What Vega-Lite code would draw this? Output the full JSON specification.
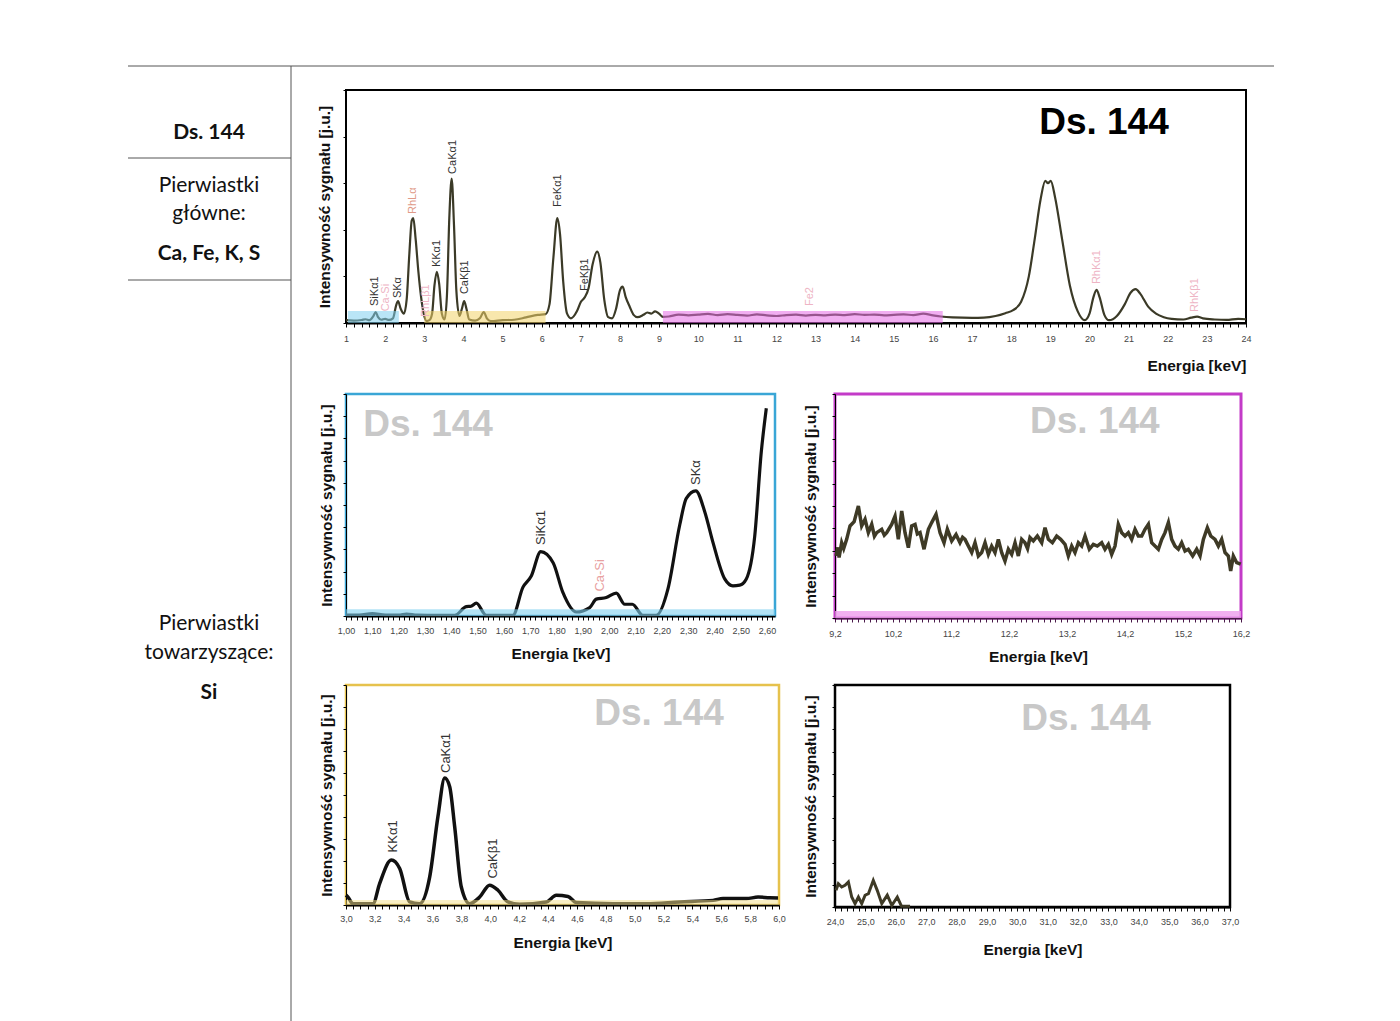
{
"$schema": "https://vega.github.io/schema/vega-lite/v6.json",
"background": "white",
"padding": {"left": 127, "top": 65, "right": 0, "bottom": 0},
"bounds": "flush",
"spacing": 55,
"config": {"font": "Liberation Sans", "view": {"stroke": null}, "axis": {"labelFont": "Liberation Sans", "titleFont": "Liberation Sans", "grid": false}},
"hconcat": [
{
 "width": 163, "height": 932,
 "encoding": {
  "x": {"field": "x", "type": "quantitative", "scale": {"domain": [0, 163], "nice": false, "zero": false}, "axis": null},
  "y": {"field": "y", "type": "quantitative", "scale": {"domain": [24, 956], "reverse": true, "nice": false, "zero": false}, "axis": null}
 },
 "layer": [
  {"data": {"values": [{"x": 0, "x2": 1146, "y": 0, "y2": 0}, {"x": 0, "x2": 163, "y": 92, "y2": 92}, {"x": 0, "x2": 163, "y": 214, "y2": 214}, {"x": 163, "x2": 163, "y": 0, "y2": 956}]},
   "mark": {"type": "rule", "color": "#555555", "strokeWidth": 1},
   "encoding": {"x2": {"field": "x2"}, "y2": {"field": "y2"}}},
  {"data": {"values": [{"x": 81, "y": 67, "t": "Ds. 144"}, {"x": 81, "y": 188, "t": "Ca, Fe, K, S"}, {"x": 81, "y": 627, "t": "Si"}]},
   "mark": {"type": "text", "font": "Lato", "fontSize": 21, "fontWeight": "bold", "color": "#111111", "align": "center", "baseline": "middle"},
   "encoding": {"text": {"field": "t"}}},
  {"data": {"values": [{"x": 81, "y": 120, "t": "Pierwiastki"}, {"x": 81, "y": 148, "t": "główne:"}, {"x": 81, "y": 558, "t": "Pierwiastki"}, {"x": 81, "y": 587, "t": "towarzyszące:"}]},
   "mark": {"type": "text", "font": "Lato", "fontSize": 21, "color": "#111111", "align": "center", "baseline": "middle"},
   "encoding": {"text": {"field": "t"}}}
 ]
},
{
 "spacing": 17,
 "vconcat": [
 {
  "width": 900, "height": 233,
  "view": {"stroke": "#000000", "strokeWidth": 2},
  "resolve": {"scale": {"color": "independent"}},
  "encoding": {
   "x": {"field": "e", "type": "quantitative", "scale": {"domain": [1, 24], "nice": false, "zero": false},
    "axis": {"title": "Energia [keV]", "titleAnchor": "end", "tickCount": 115, "labelExpr": "abs(datum.value - round(datum.value)) < 0.01 ? format(round(datum.value), 'd') : ''", "labelOverlap": false, "labelFlush": false, "labelFontSize": 9, "labelColor": "#444444", "labelPadding": 7, "tickSize": 4, "tickColor": "#000000", "domainColor": "#000000", "domainWidth": 2, "titlePadding": 15, "titleFontSize": 15.5, "titleFontWeight": "bold", "titleColor": "#111111"}},
   "y": {"field": "v", "type": "quantitative", "scale": {"domain": [0, 100], "nice": false, "zero": false},
    "axis": {"title": "Intensywność sygnału [j.u.]", "labels": false, "tickCount": 6, "tickSize": 3, "tickColor": "#000000", "domainColor": "#000000", "titlePadding": 10, "titleFontSize": 15.5, "titleFontWeight": "bold", "titleColor": "#111111"}}
  },
  "layer": [
   {"data": {"values": [
    {"e":1.0,"v":1.2},{"e":1.2,"v":1.0},{"e":1.4,"v":1.3},{"e":1.5,"v":1.6},{"e":1.6,"v":1.2},{"e":1.7,"v":3.0},{"e":1.76,"v":4.7},{"e":1.82,"v":2.5},{"e":1.9,"v":1.4},{"e":2.0,"v":1.8},{"e":2.1,"v":1.3},{"e":2.2,"v":2.0},{"e":2.28,"v":7.5},{"e":2.33,"v":9.4},{"e":2.4,"v":6.0},{"e":2.48,"v":4.0},{"e":2.55,"v":10},{"e":2.62,"v":30},{"e":2.68,"v":44},{"e":2.72,"v":45},{"e":2.78,"v":36},{"e":2.85,"v":22},{"e":2.92,"v":11},{"e":3.0,"v":3},{"e":3.06,"v":0.8},{"e":3.13,"v":1.2},{"e":3.2,"v":4},{"e":3.26,"v":16},{"e":3.32,"v":22},{"e":3.38,"v":17},{"e":3.45,"v":4},{"e":3.52,"v":1.5},{"e":3.58,"v":12},{"e":3.64,"v":45},{"e":3.70,"v":62},{"e":3.76,"v":42},{"e":3.82,"v":14},{"e":3.9,"v":3},{"e":3.96,"v":6},{"e":4.02,"v":9.4},{"e":4.08,"v":6},{"e":4.15,"v":1.5},{"e":4.3,"v":1.0},{"e":4.42,"v":2.0},{"e":4.52,"v":4.7},{"e":4.6,"v":2.0},{"e":4.7,"v":0.8},{"e":5.0,"v":1.2},{"e":5.3,"v":1.4},{"e":5.6,"v":2.4},{"e":5.9,"v":3.5},{"e":6.1,"v":3.8},{"e":6.2,"v":8},{"e":6.3,"v":28},{"e":6.4,"v":45},{"e":6.47,"v":38},{"e":6.55,"v":18},{"e":6.65,"v":4},{"e":6.75,"v":2.0},{"e":6.9,"v":5},{"e":7.0,"v":9},{"e":7.1,"v":11},{"e":7.2,"v":15},{"e":7.3,"v":25},{"e":7.42,"v":30.6},{"e":7.5,"v":26},{"e":7.6,"v":10},{"e":7.7,"v":2.5},{"e":7.8,"v":2.0},{"e":7.9,"v":6},{"e":8.0,"v":14},{"e":8.07,"v":15.6},{"e":8.15,"v":11},{"e":8.25,"v":7},{"e":8.35,"v":3.5},{"e":8.45,"v":2.5},{"e":8.6,"v":3.5},{"e":8.7,"v":4.5},{"e":8.8,"v":4.0},{"e":8.9,"v":5.0},{"e":9.0,"v":4.0},{"e":9.1,"v":2.6},{"e":9.25,"v":2.8},{"e":9.5,"v":3.6},{"e":9.75,"v":3.3},{"e":10.0,"v":3.6},{"e":10.25,"v":3.9},{"e":10.5,"v":3.4},{"e":10.75,"v":3.8},{"e":11.0,"v":3.5},{"e":11.25,"v":3.2},{"e":11.5,"v":3.7},{"e":11.75,"v":3.3},{"e":12.0,"v":3.0},{"e":12.25,"v":3.4},{"e":12.5,"v":3.6},{"e":12.75,"v":3.2},{"e":13.0,"v":3.5},{"e":13.25,"v":3.3},{"e":13.5,"v":3.6},{"e":13.75,"v":3.4},{"e":14.0,"v":3.8},{"e":14.25,"v":3.5},{"e":14.5,"v":3.6},{"e":14.75,"v":3.3},{"e":15.0,"v":3.5},{"e":15.25,"v":3.7},{"e":15.5,"v":3.4},{"e":15.75,"v":4.0},{"e":16.0,"v":3.3},{"e":16.2,"v":2.8},{"e":16.5,"v":2.4},{"e":17.0,"v":2.2},{"e":17.3,"v":2.3},{"e":17.6,"v":3.0},{"e":17.85,"v":4.2},{"e":18.05,"v":5.5},{"e":18.25,"v":9},{"e":18.45,"v":20},{"e":18.6,"v":36},{"e":18.75,"v":53},{"e":18.87,"v":61},{"e":18.94,"v":60},{"e":19.01,"v":61},{"e":19.12,"v":54},{"e":19.3,"v":36},{"e":19.5,"v":16},{"e":19.7,"v":5},{"e":19.88,"v":1.2},{"e":20.0,"v":4},{"e":20.1,"v":11},{"e":20.18,"v":14.2},{"e":20.26,"v":11},{"e":20.38,"v":3.5},{"e":20.5,"v":1.2},{"e":20.7,"v":3},{"e":20.9,"v":8},{"e":21.05,"v":13},{"e":21.18,"v":14.5},{"e":21.3,"v":12.5},{"e":21.5,"v":7},{"e":21.7,"v":4},{"e":21.9,"v":2.5},{"e":22.1,"v":1.8},{"e":22.4,"v":1.5},{"e":22.6,"v":2.3},{"e":22.75,"v":2.7},{"e":22.9,"v":2.0},{"e":23.2,"v":1.5},{"e":23.5,"v":1.3},{"e":23.8,"v":1.8},{"e":24.0,"v":1.6}
   ]},
    "mark": {"type": "line", "color": "#3b3a27", "strokeWidth": 2.2, "interpolate": "monotone"}},
   {"data": {"values": [{"e": 1.05, "e2": 2.35, "v": 0, "v2": 5.2, "c": "b"}, {"e": 3.0, "e2": 6.1, "v": 0, "v2": 5.2, "c": "y"}, {"e": 9.1, "e2": 16.25, "v": 0, "v2": 5.2, "c": "m"}]},
    "mark": {"type": "rect", "opacity": 0.55},
    "encoding": {"x2": {"field": "e2"}, "y2": {"field": "v2"}, "color": {"field": "c", "type": "nominal", "scale": {"domain": ["b", "y", "m"], "range": ["#7fd0ee", "#f3d46a", "#e66be6"]}, "legend": null}}},
   {"data": {"values": [
    {"e": 1.74, "v": 7.3, "t": "SiKα1", "k": "main"},
    {"e": 2.33, "v": 10.7, "t": "SKα", "k": "main"},
    {"e": 2.71, "v": 46.8, "t": "RhLα", "k": "rh"},
    {"e": 3.33, "v": 24, "t": "KKα1", "k": "main"},
    {"e": 3.73, "v": 64, "t": "CaKα1", "k": "main"},
    {"e": 4.04, "v": 12.4, "t": "CaKβ1", "k": "main"},
    {"e": 6.42, "v": 49.8, "t": "FeKα1", "k": "main"},
    {"e": 7.11, "v": 13.7, "t": "FeKβ1", "k": "main"},
    {"e": 20.19, "v": 16.7, "t": "RhKα1", "k": "faint"},
    {"e": 22.7, "v": 4.7, "t": "RhKβ1", "k": "faint"},
    {"e": 2.02, "v": 5, "t": "Ca-Si", "k": "faint"},
    {"e": 3.04, "v": 2.6, "t": "RhLβ1", "k": "faint"},
    {"e": 12.86, "v": 7.3, "t": "Fe2", "k": "faint"}
   ]},
    "mark": {"type": "text", "angle": 270, "align": "left", "baseline": "middle", "fontSize": 11},
    "encoding": {"text": {"field": "t"}, "color": {"field": "k", "type": "nominal", "scale": {"domain": ["main", "rh", "faint"], "range": ["#333333", "#e09a88", "#eeb4c4"]}, "legend": null}}},
   {"data": {"values": [{"e": 20.37, "v": 85.8, "t": "Ds. 144"}]},
    "mark": {"type": "text", "fontSize": 37, "fontWeight": "bold", "color": "#000000", "align": "center", "baseline": "middle"},
    "encoding": {"text": {"field": "t"}}}
  ]
 },
 {
  "spacing": 24,
  "hconcat": [
  {
   "width": 429, "height": 222,
   "view": {"stroke": "#3aa6d6", "strokeWidth": 2.5},
   "encoding": {
    "x": {"field": "e", "type": "quantitative", "scale": {"domain": [1.0, 2.63], "nice": false, "zero": false},
     "axis": {"title": "Energia [keV]", "tickCount": 81, "labelExpr": "abs(datum.value*10 - round(datum.value*10)) < 0.01 ? replace(format(datum.value, '.2f'), '.', ',') : ''", "labelOverlap": false, "labelFlush": false, "labelFontSize": 9, "labelColor": "#444444", "labelPadding": 6, "tickSize": 4, "tickColor": "#000000", "domainColor": "#000000", "domainWidth": 2, "titlePadding": 11, "titleFontSize": 15.5, "titleFontWeight": "bold", "titleColor": "#111111"}},
    "y": {"field": "v", "type": "quantitative", "scale": {"domain": [0, 100], "nice": false, "zero": false},
     "axis": {"title": "Intensywność sygnału [j.u.]", "labels": false, "tickCount": 8, "tickSize": 3, "tickColor": "#000000", "domainColor": "#000000", "titlePadding": 8, "titleFontSize": 15.5, "titleFontWeight": "bold", "titleColor": "#111111"}}
   },
   "layer": [
    {"data": {"values": [
     {"e":1.0,"v":0.4},{"e":1.05,"v":0.4},{"e":1.1,"v":1.1},{"e":1.15,"v":0.4},{"e":1.2,"v":0.4},{"e":1.23,"v":0.9},{"e":1.27,"v":0.4},{"e":1.35,"v":0.3},{"e":1.413,"v":0.3},{"e":1.457,"v":4.2},{"e":1.475,"v":4.4},{"e":1.495,"v":5.8},{"e":1.533,"v":0.3},{"e":1.634,"v":0.3},{"e":1.672,"v":12.9},{"e":1.704,"v":18},{"e":1.740,"v":29},{"e":1.787,"v":24},{"e":1.824,"v":10.6},{"e":1.875,"v":1.8},{"e":1.926,"v":3.8},{"e":1.951,"v":7.6},{"e":1.989,"v":8.3},{"e":2.027,"v":10.3},{"e":2.059,"v":5.3},{"e":2.088,"v":5.3},{"e":2.128,"v":0.3},{"e":2.179,"v":0.3},{"e":2.223,"v":12.1},{"e":2.268,"v":41},{"e":2.293,"v":53},{"e":2.329,"v":56.4},{"e":2.363,"v":47},{"e":2.394,"v":33.3},{"e":2.439,"v":16.7},{"e":2.470,"v":13.6},{"e":2.496,"v":13.9},{"e":2.521,"v":16.7},{"e":2.553,"v":36},{"e":2.578,"v":74},{"e":2.597,"v":93.6}
    ]},
     "mark": {"type": "line", "color": "#111111", "strokeWidth": 3.2, "interpolate": "monotone"}},
    {"data": {"values": [{"e": 1.0, "e2": 2.63, "v": 0, "v2": 3.0}]},
     "mark": {"type": "rect", "color": "#7fd0ee", "opacity": 0.6},
     "encoding": {"x2": {"field": "e2"}, "y2": {"field": "v2"}}},
    {"data": {"values": [{"e": 1.742, "v": 32, "t": "SiKα1", "k": "main"}, {"e": 2.331, "v": 59, "t": "SKα", "k": "main"}, {"e": 1.964, "v": 11, "t": "Ca-Si", "k": "rh"}]},
     "mark": {"type": "text", "angle": 270, "align": "left", "baseline": "middle", "fontSize": 13},
     "encoding": {"text": {"field": "t"}, "color": {"field": "k", "type": "nominal", "scale": {"domain": ["main", "rh"], "range": ["#333333", "#e8a0a0"]}, "legend": null}}},
    {"data": {"values": [{"e": 1.312, "v": 86, "t": "Ds. 144"}]},
     "mark": {"type": "text", "fontSize": 37, "fontWeight": "bold", "color": "#c8c8c8", "align": "center", "baseline": "middle"},
     "encoding": {"text": {"field": "t"}}}
   ]
  },
  {
   "width": 406, "height": 224,
   "view": {"stroke": "#c33bc8", "strokeWidth": 3},
   "encoding": {
    "x": {"field": "e", "type": "quantitative", "scale": {"domain": [9.2, 16.2], "nice": false, "zero": false},
     "axis": {"title": "Energia [keV]", "tickCount": 70, "labelExpr": "abs(datum.value - 0.2 - round(datum.value - 0.2)) < 0.01 ? replace(format(datum.value, '.1f'), '.', ',') : ''", "labelOverlap": false, "labelFlush": false, "labelFontSize": 9, "labelColor": "#444444", "labelPadding": 7, "tickSize": 4, "tickColor": "#4a1a4a", "domainColor": "#4a1a4a", "domainWidth": 2, "titlePadding": 11, "titleFontSize": 15.5, "titleFontWeight": "bold", "titleColor": "#111111"}},
    "y": {"field": "v", "type": "quantitative", "scale": {"domain": [0, 100], "nice": false, "zero": false},
     "axis": {"title": "Intensywność sygnału [j.u.]", "labels": false, "tickCount": 8, "tickSize": 3, "tickColor": "#000000", "domainColor": "#000000", "titlePadding": 13, "titleFontSize": 15.5, "titleFontWeight": "bold", "titleColor": "#111111"}}
   },
   "layer": [
    {"data": {"values": [
     {"e":9.218,"v":27.7},{"e":9.25,"v":31.5},{"e":9.27,"v":27},{"e":9.315,"v":33.6},{"e":9.35,"v":31},{"e":9.401,"v":35.1},{"e":9.459,"v":41.1},{"e":9.53,"v":43},{"e":9.603,"v":50.0},{"e":9.660,"v":41.1},{"e":9.718,"v":44.05},{"e":9.775,"v":38.1},{"e":9.833,"v":41.8},{"e":9.88,"v":36.5},{"e":9.919,"v":38.1},{"e":10.005,"v":39.6},{"e":10.05,"v":37},{"e":10.091,"v":38.1},{"e":10.177,"v":41.8},{"e":10.235,"v":45.5},{"e":10.292,"v":35.1},{"e":10.350,"v":47.8},{"e":10.407,"v":38.1},{"e":10.465,"v":31.4},{"e":10.522,"v":41.1},{"e":10.580,"v":41.8},{"e":10.62,"v":37.5},{"e":10.666,"v":38.1},{"e":10.735,"v":30.7},{"e":10.810,"v":39.6},{"e":10.867,"v":42.6},{"e":10.942,"v":46.3},{"e":11.011,"v":38.1},{"e":11.080,"v":33.6},{"e":11.137,"v":39.6},{"e":11.212,"v":34.4},{"e":11.287,"v":37.3},{"e":11.355,"v":33.6},{"e":11.40,"v":36},{"e":11.442,"v":35.1},{"e":11.499,"v":32.1},{"e":11.557,"v":29.2},{"e":11.614,"v":33.6},{"e":11.672,"v":27.7},{"e":11.729,"v":29.2},{"e":11.787,"v":33.6},{"e":11.844,"v":28.4},{"e":11.901,"v":32.1},{"e":11.959,"v":29.2},{"e":12.016,"v":35.1},{"e":12.074,"v":29.2},{"e":12.131,"v":25.4},{"e":12.189,"v":30.7},{"e":12.246,"v":28.4},{"e":12.304,"v":33.6},{"e":12.361,"v":27.7},{"e":12.419,"v":35.1},{"e":12.476,"v":33.6},{"e":12.52,"v":31},{"e":12.562,"v":35.9},{"e":12.620,"v":34.4},{"e":12.689,"v":36.6},{"e":12.764,"v":33.6},{"e":12.821,"v":40.3},{"e":12.879,"v":35.1},{"e":12.948,"v":33.6},{"e":13.022,"v":36.6},{"e":13.091,"v":35.1},{"e":13.166,"v":32.9},{"e":13.223,"v":27.7},{"e":13.281,"v":32.1},{"e":13.338,"v":29.2},{"e":13.396,"v":33.6},{"e":13.453,"v":32.1},{"e":13.511,"v":36.6},{"e":13.585,"v":30.7},{"e":13.654,"v":32.9},{"e":13.723,"v":32.1},{"e":13.798,"v":33.6},{"e":13.855,"v":30.7},{"e":13.913,"v":32.9},{"e":13.970,"v":28.4},{"e":14.028,"v":32.1},{"e":14.085,"v":41.8},{"e":14.143,"v":38.1},{"e":14.200,"v":36.6},{"e":14.258,"v":38.1},{"e":14.315,"v":35.1},{"e":14.373,"v":39.6},{"e":14.430,"v":36.6},{"e":14.488,"v":36.6},{"e":14.545,"v":39.6},{"e":14.603,"v":41.8},{"e":14.660,"v":33.6},{"e":14.718,"v":32.1},{"e":14.775,"v":30.7},{"e":14.833,"v":35.1},{"e":14.890,"v":38.1},{"e":14.948,"v":42.6},{"e":15.005,"v":35.1},{"e":15.062,"v":32.1},{"e":15.120,"v":30.7},{"e":15.177,"v":33.6},{"e":15.235,"v":29.9},{"e":15.292,"v":30.7},{"e":15.367,"v":27.7},{"e":15.436,"v":30.7},{"e":15.494,"v":27.7},{"e":15.551,"v":35.1},{"e":15.620,"v":40.3},{"e":15.678,"v":36.6},{"e":15.752,"v":35.1},{"e":15.810,"v":32.1},{"e":15.867,"v":35.1},{"e":15.925,"v":29.2},{"e":15.982,"v":27.7},{"e":16.022,"v":21.0},{"e":16.068,"v":27.7},{"e":16.126,"v":24.7},{"e":16.195,"v":24.0}
    ]},
     "mark": {"type": "line", "color": "#3e3a26", "strokeWidth": 3.5}},
    {"data": {"values": [{"e": 9.2, "e2": 16.2, "v": 0, "v2": 3.1}]},
     "mark": {"type": "rect", "color": "#ee9cee", "opacity": 0.8},
     "encoding": {"x2": {"field": "e2"}, "y2": {"field": "v2"}}},
    {"data": {"values": [{"e": 13.68, "v": 87.5, "t": "Ds. 144"}]},
     "mark": {"type": "text", "fontSize": 37, "fontWeight": "bold", "color": "#c8c8c8", "align": "center", "baseline": "middle"},
     "encoding": {"text": {"field": "t"}}}
   ]
  }
  ]
 },
 {
  "spacing": 15,
  "hconcat": [
  {
   "width": 433, "height": 220,
   "view": {"stroke": "#e6c24d", "strokeWidth": 2.5},
   "encoding": {
    "x": {"field": "e", "type": "quantitative", "scale": {"domain": [3.0, 6.0], "nice": false, "zero": false},
     "axis": {"title": "Energia [keV]", "tickCount": 60, "labelExpr": "abs(datum.value*5 - round(datum.value*5)) < 0.01 ? replace(format(datum.value, '.1f'), '.', ',') : ''", "labelOverlap": false, "labelFlush": false, "labelFontSize": 9, "labelColor": "#444444", "labelPadding": 5, "tickSize": 4, "tickColor": "#000000", "domainColor": "#000000", "domainWidth": 2, "titlePadding": 12, "titleFontSize": 15.5, "titleFontWeight": "bold", "titleColor": "#111111"}},
    "y": {"field": "v", "type": "quantitative", "scale": {"domain": [0, 100], "nice": false, "zero": false},
     "axis": {"title": "Intensywność sygnału [j.u.]", "labels": false, "tickCount": 8, "tickSize": 3, "tickColor": "#000000", "domainColor": "#000000", "titlePadding": 8, "titleFontSize": 15.5, "titleFontWeight": "bold", "titleColor": "#111111"}}
   },
   "layer": [
    {"data": {"values": [
     {"e":3.0,"v":4.5},{"e":3.014,"v":3.6},{"e":3.048,"v":0.6},{"e":3.187,"v":0.6},{"e":3.233,"v":9.7},{"e":3.314,"v":20.4},{"e":3.372,"v":16.6},{"e":3.441,"v":1.4},{"e":3.510,"v":0.6},{"e":3.580,"v":12.8},{"e":3.637,"v":40.2},{"e":3.684,"v":57.7},{"e":3.718,"v":53.9},{"e":3.753,"v":35.6},{"e":3.799,"v":8.2},{"e":3.857,"v":0.6},{"e":3.926,"v":3.6},{"e":3.995,"v":9.0},{"e":4.053,"v":6.7},{"e":4.122,"v":1.4},{"e":4.203,"v":0.3},{"e":4.388,"v":1.4},{"e":4.457,"v":4.4},{"e":4.538,"v":3.9},{"e":4.596,"v":1.1},{"e":4.850,"v":0.6},{"e":5.081,"v":0.6},{"e":5.312,"v":1.4},{"e":5.543,"v":2.1},{"e":5.612,"v":2.9},{"e":5.774,"v":2.9},{"e":5.855,"v":3.6},{"e":5.935,"v":3.3},{"e":5.993,"v":3.2}
    ]},
     "mark": {"type": "line", "color": "#111111", "strokeWidth": 3.5, "interpolate": "monotone"}},
    {"data": {"values": [{"e": 3.0, "e2": 6.0, "v": 0, "v2": 2.3}]},
     "mark": {"type": "rect", "color": "#f3e08a", "opacity": 0.5},
     "encoding": {"x2": {"field": "e2"}, "y2": {"field": "v2"}}},
    {"data": {"values": [{"e": 3.326, "v": 23.9, "t": "KKα1", "k": "main"}, {"e": 3.695, "v": 60, "t": "CaKα1", "k": "main"}, {"e": 4.018, "v": 12, "t": "CaKβ1", "k": "grey"}]},
     "mark": {"type": "text", "angle": 270, "align": "left", "baseline": "middle", "fontSize": 13},
     "encoding": {"text": {"field": "t"}, "color": {"field": "k", "type": "nominal", "scale": {"domain": ["main", "grey"], "range": ["#333333", "#8a8a8a"]}, "legend": null}}},
    {"data": {"values": [{"e": 5.169, "v": 86.8, "t": "Ds. 144"}]},
     "mark": {"type": "text", "fontSize": 37, "fontWeight": "bold", "color": "#c8c8c8", "align": "center", "baseline": "middle"},
     "encoding": {"text": {"field": "t"}}}
   ]
  },
  {
   "width": 395, "height": 222,
   "view": {"stroke": "#000000", "strokeWidth": 2.5},
   "encoding": {
    "x": {"field": "e", "type": "quantitative", "scale": {"domain": [24, 37], "nice": false, "zero": false},
     "axis": {"title": "Energia [keV]", "tickCount": 65, "labelExpr": "abs(datum.value - round(datum.value)) < 0.01 ? replace(format(datum.value, '.1f'), '.', ',') : ''", "labelOverlap": false, "labelFlush": false, "labelFontSize": 9, "labelColor": "#444444", "labelPadding": 6, "tickSize": 4, "tickColor": "#000000", "domainColor": "#000000", "domainWidth": 2, "titlePadding": 16, "titleFontSize": 15.5, "titleFontWeight": "bold", "titleColor": "#111111"}},
    "y": {"field": "v", "type": "quantitative", "scale": {"domain": [0, 100], "nice": false, "zero": false},
     "axis": {"title": "Intensywność sygnału [j.u.]", "labels": false, "tickCount": 8, "tickSize": 3, "tickColor": "#000000", "domainColor": "#000000", "titlePadding": 13, "titleFontSize": 15.5, "titleFontWeight": "bold", "titleColor": "#111111"}}
   },
   "layer": [
    {"data": {"values": [
     {"e":24.033,"v":7.5},{"e":24.11,"v":10.5},{"e":24.22,"v":9.0},{"e":24.33,"v":9.8},{"e":24.44,"v":11.3},{"e":24.55,"v":4.5},{"e":24.66,"v":1.5},{"e":24.77,"v":4.5},{"e":24.88,"v":1.5},{"e":24.99,"v":5.3},{"e":25.10,"v":6.0},{"e":25.26,"v":12.0},{"e":25.39,"v":7.5},{"e":25.54,"v":1.5},{"e":25.72,"v":5.3},{"e":25.87,"v":0.7},{"e":26.05,"v":4.5},{"e":26.19,"v":0.3},{"e":26.47,"v":0.3}
    ]},
     "mark": {"type": "line", "color": "#3e3a26", "strokeWidth": 3}},
    {"data": {"values": [{"e": 32.26, "v": 84.7, "t": "Ds. 144"}]},
     "mark": {"type": "text", "fontSize": 37, "fontWeight": "bold", "color": "#c8c8c8", "align": "center", "baseline": "middle"},
     "encoding": {"text": {"field": "t"}}}
   ]
  }
  ]
 }
 ]
}
]
}
